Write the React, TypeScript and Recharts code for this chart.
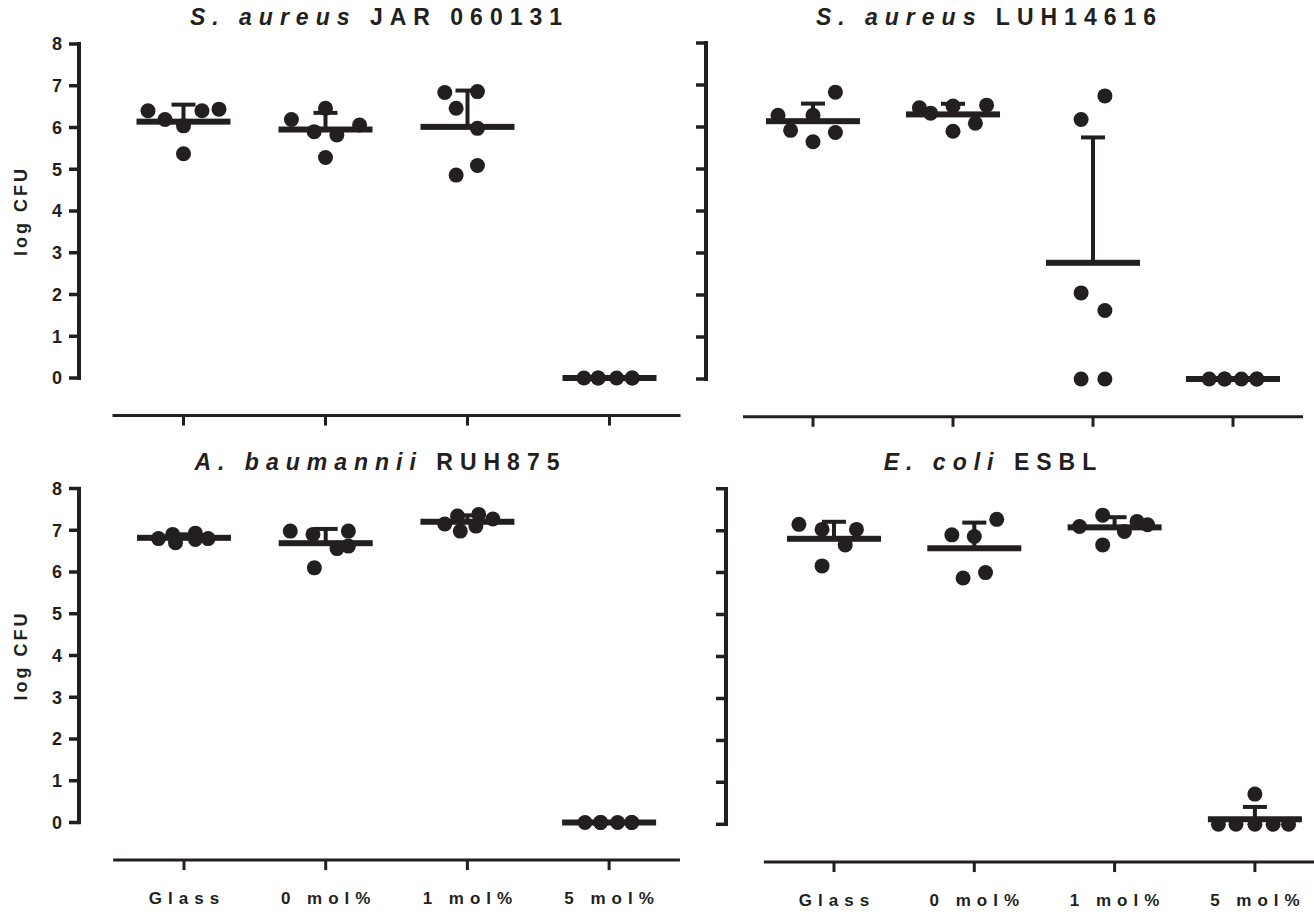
import React from 'react';
import { ComposedChart, Scatter, XAxis, YAxis, ErrorBar, ReferenceLine } from 'recharts';

const INK = '#231f20';
const FONT = '"Liberation Sans", Arial, Helvetica, sans-serif';

const categories = ['Glass', '0 mol%', '1 mol%', '5 mol%'];
const yTicks = [0, 1, 2, 3, 4, 5, 6, 7, 8];
const xTicks = [0, 1, 2, 3];

// S. aureus JAR 060131
const jarValues = [
  [6.40, 6.19, 6.04, 5.37, 6.40, 6.44],
  [6.19, 5.90, 6.46, 5.28, 5.82, 6.06],
  [6.84, 6.46, 4.86, 6.86, 5.98, 5.09],
  [0, 0, 0, 0, 0, 0],
];
const jarJitter = [
  [-0.25, -0.13, 0, 0, 0.13, 0.25],
  [-0.24, -0.08, 0, 0, 0.08, 0.24],
  [-0.16, -0.08, -0.08, 0.07, 0.07, 0.07],
  [-0.18, -0.08, -0.08, 0.05, 0.16, 0.16],
];

// S. aureus LUH14616
const luhValues = [
  [6.28, 5.92, 6.28, 5.65, 6.83, 5.87],
  [6.46, 6.33, 6.50, 5.90, 6.09, 6.52],
  [6.18, 6.74, 2.05, 1.63, 0, 0],
  [0, 0, 0, 0, 0, 0],
];
const luhJitter = [
  [-0.25, -0.16, 0, 0, 0.16, 0.16],
  [-0.24, -0.16, 0, 0, 0.16, 0.24],
  [-0.085, 0.085, -0.085, 0.085, -0.085, 0.085],
  [-0.17, -0.06, -0.06, 0.06, 0.17, 0.17],
];

// A. baumannii RUH875
const ruhValues = [
  [6.80, 6.90, 6.70, 6.93, 6.78, 6.80],
  [6.98, 6.90, 6.10, 6.56, 6.98, 6.62],
  [7.15, 7.34, 6.98, 7.10, 7.38, 7.27],
  [0, 0, 0, 0, 0, 0],
];
const ruhJitter = [
  [-0.18, -0.08, -0.06, 0.08, 0.08, 0.17],
  [-0.25, -0.09, -0.08, 0.08, 0.16, 0.16],
  [-0.16, -0.07, -0.05, 0.06, 0.08, 0.18],
  [-0.17, -0.06, -0.06, 0.06, 0.16, 0.16],
];

// E. coli ESBL
const esblValues = [
  [7.15, 7.03, 6.16, 6.66, 7.03],
  [6.90, 6.86, 7.27, 5.87, 6.00],
  [7.10, 7.37, 6.66, 6.98, 7.22, 7.14],
  [0, 0, 0, 0, 0, 0.72],
];
const esblJitter = [
  [-0.25, -0.085, -0.085, 0.08, 0.16],
  [-0.16, 0, 0.16, -0.08, 0.08],
  [-0.25, -0.085, -0.085, 0.07, 0.16, 0.235],
  [-0.26, -0.135, 0, 0.13, 0.24, 0],
];

const AXIS_Y = -0.9;
const LS = 6;
const GAP = 12; // y-axis line sits this far right of the YAxis box edge

const mean = (a: number[]) => a.reduce((s, v) => s + v, 0) / a.length;
const sd = (a: number[]) => {
  const m = mean(a);
  return Math.sqrt(a.reduce((s, v) => s + (v - m) * (v - m), 0) / (a.length - 1));
};

const Dot = (p: any) => <circle cx={p.cx} cy={p.cy} r={7.5} fill={INK} />;
const MeanBar = (p: any) => <rect x={p.cx - 47} y={p.cy - 3} width={94} height={6} fill={INK} />;

// x tick: tick mark + spaced category label
const makeXTick = (showLabel: boolean) => ({ x, y, payload }: any) => (
  <g>
    <line x1={x} x2={x} y1={y} y2={y + 10} stroke={INK} strokeWidth={3} />
    {showLabel && (
      <text x={x + LS / 2} y={y + 32} dy="0.71em" textAnchor="middle" fill={INK} fontSize={17}
        fontWeight={700} fontFamily={FONT} letterSpacing={LS}>
        {categories[payload.value]}
      </text>
    )}
  </g>
);

// y tick: tick mark, a piece of the axis line, and the number
const makeYTick = (showLabel: boolean, unitPx: number) => ({ x, y, payload }: any) => {
  const ax = x + GAP;
  return (
    <g>
      <path d={`M${ax - 10},${y}H${ax}` + (payload.value > 0 ? `M${ax},${y - 1.75}V${y + unitPx + 1.75}` : '')}
        stroke={INK} strokeWidth={3.5} fill="none" />
      {showLabel && (
        <text x={ax - 17} y={y} dy="0.36em" textAnchor="end" fill={INK} fontSize={18}
          fontWeight={700} fontFamily={FONT}>{payload.value}</text>
      )}
    </g>
  );
};

interface Layout {
  box: { left: number; top: number; width: number; height: number };
  yAxisX: number; c0: number; band: number; y8: number; y0: number;
  showY: boolean; showX: boolean;
}

function Panel({ values, jitter, layout }: { values: number[][]; jitter: number[][]; layout: Layout }) {
  const { box, yAxisX, c0, band, y8, y0, showY, showX } = layout;
  const unit = (y0 - y8) / 8;
  const plotBottom = y0 - AXIS_Y * unit - box.top;
  const plotTop = y8 - box.top;
  const plotLeft = yAxisX - GAP - box.left;
  const c0Local = c0 - box.left;
  const plotRight = Math.min(c0Local + 3.5 * band, box.width);
  const xMin = (plotLeft - c0Local) / band;
  const xMax = (plotRight - c0Local) / band;
  const xAxisLine = (yAxisX - c0) / band;
  const xh = box.height - plotBottom - 2;

  const points = values.flatMap((vals, ci) => vals.map((v, k) => ({ x: ci + jitter[ci][k], y: v })));
  const summary = values.map((vals, ci) => ({ x: ci, y: mean(vals), err: [0, sd(vals)] }));
  const labelY = (y8 + y0) / 2 - box.top;

  return (
    <div style={{ position: 'absolute', left: box.left, top: box.top }}>
      <ComposedChart width={box.width} height={box.height}
        margin={{ top: plotTop, left: 0, right: box.width - plotRight, bottom: 2 }}>
        <XAxis type="number" dataKey="x" domain={[xMin, xMax]} ticks={xTicks} allowDataOverflow
          axisLine={false} tickLine={false} tickSize={0} tickMargin={0}
          tick={makeXTick(showX)} height={xh} interval={0} />
        <YAxis type="number" dataKey="y" domain={[AXIS_Y, 8]} ticks={yTicks} allowDataOverflow
          axisLine={false} tickLine={false} tickSize={0} tickMargin={0}
          width={plotLeft} interval={0} tick={makeYTick(showY, unit)}
          label={showY ? {
            content: () => (
              <text x={21} y={labelY} transform={`rotate(-90 21 ${labelY})`} textAnchor="middle"
                dominantBaseline="central" fill={INK} fontSize={18} fontWeight={700}
                fontFamily={FONT} letterSpacing={3}>log CFU</text>
            ),
          } : undefined} />
        <ReferenceLine segment={[{ x: xAxisLine, y: 0 }, { x: xAxisLine, y: 8 }]} stroke={INK}
          strokeWidth={3.5} ifOverflow="visible" />
        <ReferenceLine segment={[{ x: -0.5, y: AXIS_Y }, { x: 3.5, y: AXIS_Y }]} stroke={INK}
          strokeWidth={3} ifOverflow="visible" />
        <Scatter data={points} shape={Dot} isAnimationActive={false} />
        <Scatter data={summary} shape={MeanBar} isAnimationActive={false}>
          <ErrorBar dataKey="err" direction="y" width={12} stroke={INK} strokeWidth={4}
            isAnimationActive={false} />
        </Scatter>
      </ComposedChart>
      {/* axis spine overlay, same place as the chart's own y-axis line */}
      <div style={{
        position: 'absolute', left: yAxisX - box.left - 1.75, top: y8 - box.top - 1.75,
        width: 3.5, height: y0 - y8 + 3.5, background: INK, zIndex: 5,
      }} />
    </div>
  );
}

function Title({ cx, top, italic, rest }: { cx: number; top: number; italic: string; rest: string }) {
  return (
    <div style={{
      position: 'absolute', left: cx - 300, top, width: 600, textAlign: 'center',
      fontFamily: FONT, fontWeight: 700, fontSize: 23, lineHeight: '26px',
      letterSpacing: 7, paddingLeft: 7, boxSizing: 'border-box', color: INK, whiteSpace: 'nowrap',
    }}>
      <i>{italic}</i> {rest}
    </div>
  );
}

export default function App() {
  return (
    <div style={{ position: 'absolute', left: 0, top: 0, width: 1314, height: 914, overflow: 'hidden', background: '#fff' }}>
      <Panel values={jarValues} jitter={jarJitter}
        layout={{ box: { left: 0, top: 34, width: 684, height: 406 },
          yAxisX: 79, c0: 183.5, band: 142, y8: 44, y0: 378, showY: true, showX: false }} />
      <Panel values={luhValues} jitter={luhJitter}
        layout={{ box: { left: 684, top: 34, width: 630, height: 406 },
          yAxisX: 706, c0: 813, band: 140, y8: 43, y0: 379, showY: false, showX: false }} />
      <Panel values={ruhValues} jitter={ruhJitter}
        layout={{ box: { left: 0, top: 478, width: 684, height: 436 },
          yAxisX: 79, c0: 184, band: 141.7, y8: 488.5, y0: 822.5, showY: true, showX: true }} />
      <Panel values={esblValues} jitter={esblJitter}
        layout={{ box: { left: 684, top: 478, width: 630, height: 436 },
          yAxisX: 726, c0: 834, band: 140.3, y8: 488.7, y0: 824.3, showY: false, showX: true }} />
      <Title cx={376} top={4} italic="S. aureus" rest="JAR 060131" />
      <Title cx={986} top={4} italic="S. aureus" rest="LUH14616" />
      <Title cx={377} top={449} italic="A. baumannii" rest="RUH875" />
      <Title cx={990} top={449} italic="E. coli" rest="ESBL" />
    </div>
  );
}
